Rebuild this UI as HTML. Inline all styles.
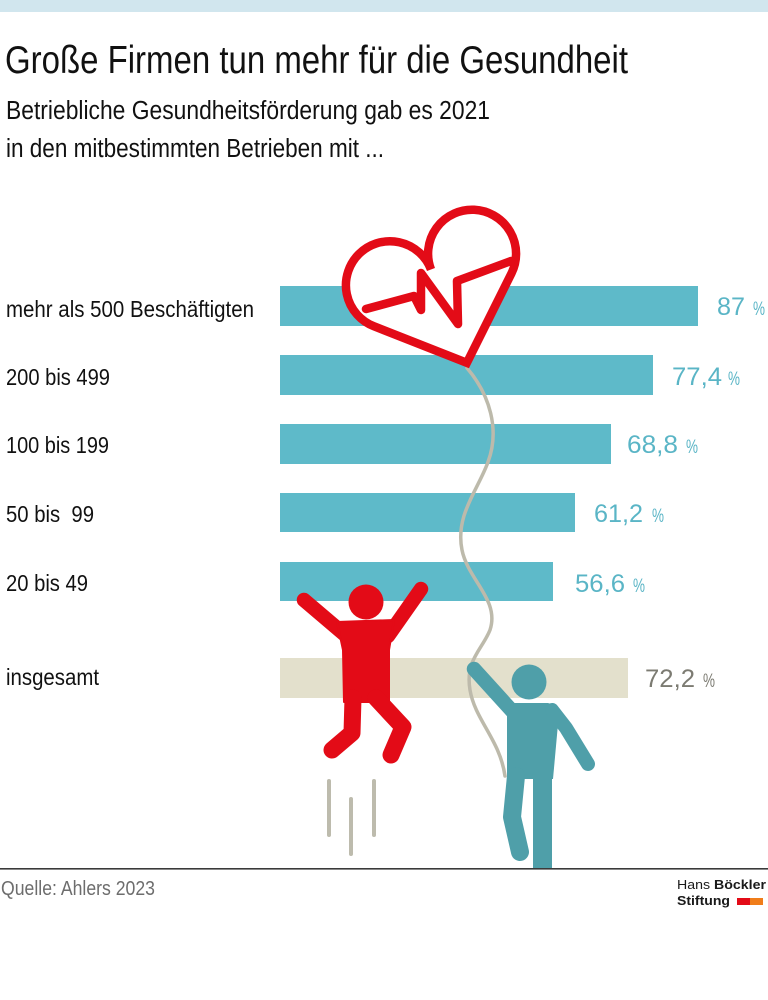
<!DOCTYPE html>
<html>
<head>
<meta charset="utf-8">
<style>
  html,body{margin:0;padding:0;background:#fff;}
  svg{display:block;}
  text{font-family:"Liberation Sans",sans-serif;}
</style>
</head>
<body>
<svg width="768" height="1000" viewBox="0 0 768 1000" xmlns="http://www.w3.org/2000/svg">
  <rect x="0" y="0" width="768" height="1000" fill="#ffffff"/>
  <rect x="0" y="0" width="768" height="12" fill="#d1e6ee"/>

  <!-- Title & subtitle -->
  <text x="5" y="73" font-size="39" fill="#111" textLength="623" lengthAdjust="spacingAndGlyphs">Große Firmen tun mehr für die Gesundheit</text>
  <text x="6" y="119" font-size="25.5" fill="#111" textLength="484" lengthAdjust="spacingAndGlyphs">Betriebliche Gesundheitsförderung gab es 2021</text>
  <text x="6" y="157" font-size="25.5" fill="#111" textLength="378" lengthAdjust="spacingAndGlyphs">in den mitbestimmten Betrieben mit ...</text>

  <!-- Bars -->
  <rect x="280" y="286" width="418" height="40" fill="#5ebac9"/>
  <rect x="280" y="355" width="373" height="40" fill="#5ebac9"/>
  <rect x="280" y="424" width="331" height="40" fill="#5ebac9"/>
  <rect x="280" y="493" width="295" height="39" fill="#5ebac9"/>
  <rect x="280" y="562" width="273" height="39" fill="#5ebac9"/>
  <rect x="280" y="658" width="348" height="40" fill="#e3e0cc"/>

  <!-- Category labels -->
  <text x="6" y="317" font-size="23.5" fill="#111" textLength="248" lengthAdjust="spacingAndGlyphs">mehr als 500 Beschäftigten</text>
  <text x="6" y="385" font-size="23.5" fill="#111" textLength="104" lengthAdjust="spacingAndGlyphs">200 bis 499</text>
  <text x="6" y="453" font-size="23.5" fill="#111" textLength="103" lengthAdjust="spacingAndGlyphs">100 bis 199</text>
  <text x="6" y="522" font-size="23.5" fill="#111" textLength="88" lengthAdjust="spacingAndGlyphs" style="white-space:pre">50 bis  99</text>
  <text x="6" y="591" font-size="23.5" fill="#111" textLength="82" lengthAdjust="spacingAndGlyphs">20 bis 49</text>
  <text x="6" y="685" font-size="23.5" fill="#111" textLength="93" lengthAdjust="spacingAndGlyphs">insgesamt</text>

  <!-- Value labels -->
  <g fill="#5ab5c6">
    <text x="717" y="315" font-size="25" textLength="28" lengthAdjust="spacingAndGlyphs">87</text>
    <text x="753" y="315" font-size="19" textLength="12" lengthAdjust="spacingAndGlyphs">%</text>
    <text x="672" y="385" font-size="25" textLength="50" lengthAdjust="spacingAndGlyphs">77,4</text>
    <text x="728" y="385" font-size="19" textLength="12" lengthAdjust="spacingAndGlyphs">%</text>
    <text x="627" y="453" font-size="25" textLength="51" lengthAdjust="spacingAndGlyphs">68,8</text>
    <text x="686" y="453" font-size="19" textLength="12" lengthAdjust="spacingAndGlyphs">%</text>
    <text x="594" y="522" font-size="25" textLength="49" lengthAdjust="spacingAndGlyphs">61,2</text>
    <text x="652" y="522" font-size="19" textLength="12" lengthAdjust="spacingAndGlyphs">%</text>
    <text x="575" y="592" font-size="25" textLength="50" lengthAdjust="spacingAndGlyphs">56,6</text>
    <text x="633" y="592" font-size="19" textLength="12" lengthAdjust="spacingAndGlyphs">%</text>
  </g>
  <g fill="#7c7b72">
    <text x="645" y="687" font-size="25" textLength="50" lengthAdjust="spacingAndGlyphs">72,2</text>
    <text x="703" y="687" font-size="19" textLength="12" lengthAdjust="spacingAndGlyphs">%</text>
  </g>

  <!-- Rope -->
  <path d="M467,368 C490,395 500,430 488,462 C478,490 455,515 462,550 C468,580 500,600 490,630 C482,650 465,660 470,690 C475,720 500,740 505,776" fill="none" stroke="#bdbaab" stroke-width="3.5" stroke-linecap="round"/>

  <!-- Heart -->
  <g transform="translate(431,269.5) rotate(-21)">
    <path d="M0,100 L-73.73,32.44 A44,44 0 1 1 0,0 A44,44 0 1 1 73.73,32.44 Z" fill="#ffffff" stroke="#e30b17" stroke-width="8.5" stroke-linejoin="miter"/>
  </g>
  <polyline points="366,309 414,296 421,310 421,273 458,324 457,281 511,261" fill="none" stroke="#e30b17" stroke-width="8.5" stroke-linejoin="round" stroke-linecap="round"/>

  <!-- Red jumping figure -->
  <g fill="#e30b17" stroke="#e30b17" stroke-linecap="round" stroke-linejoin="round">
    <circle cx="366" cy="602" r="17.5" stroke="none"/>
    <line x1="304" y1="600" x2="344" y2="634" stroke-width="14.5"/>
    <line x1="421" y1="589" x2="388" y2="636" stroke-width="14.5"/>
    <polygon points="337,622 394,620 389,650 389,702 344,702 343,650" stroke-width="2"/>
    <polyline points="353,698 352,733 332,750" fill="none" stroke-width="17"/>
    <polyline points="376,698 403,727 391,755" fill="none" stroke-width="17"/>
  </g>

  <!-- Motion lines -->
  <g stroke="#bdbbad" stroke-width="4" stroke-linecap="round">
    <line x1="329" y1="781" x2="329" y2="835"/>
    <line x1="351" y1="799" x2="351" y2="854"/>
    <line x1="374" y1="781" x2="374" y2="835"/>
  </g>

  <!-- Teal figure -->
  <g fill="#4f9fa9" stroke="#4f9fa9" stroke-linecap="round" stroke-linejoin="round">
    <circle cx="529" cy="682" r="17.5" stroke="none"/>
    <line x1="474" y1="669" x2="513" y2="712" stroke-width="14.5"/>
    <path d="M507,703 L548,703 Q556,705 559,713 L553,779 L507,779 Z" stroke="none"/>
    <polyline points="552,710 566,728 588,764" fill="none" stroke-width="14"/>
    <polyline points="516,776 512,817 520,852" fill="none" stroke-width="18"/>
    <rect x="533" y="776" width="19" height="93" stroke="none"/>
  </g>

  <!-- Footer -->
  <rect x="0" y="868" width="768" height="1.6" fill="#3a3a3a"/>
  <text x="1" y="895" font-size="20" fill="#6d6d6d" textLength="154" lengthAdjust="spacingAndGlyphs">Quelle: Ahlers 2023</text>

  <text x="677" y="889" font-size="13" fill="#1a1a1a" textLength="89" lengthAdjust="spacingAndGlyphs">Hans <tspan font-weight="bold">Böckler</tspan></text>
  <text x="677" y="905" font-size="13" font-weight="bold" fill="#1a1a1a" textLength="53" lengthAdjust="spacingAndGlyphs">Stiftung</text>
  <rect x="737" y="898" width="13" height="7" fill="#e30b17"/>
  <rect x="750" y="898" width="13" height="7" fill="#f07d1a"/>
</svg>
</body>
</html>
